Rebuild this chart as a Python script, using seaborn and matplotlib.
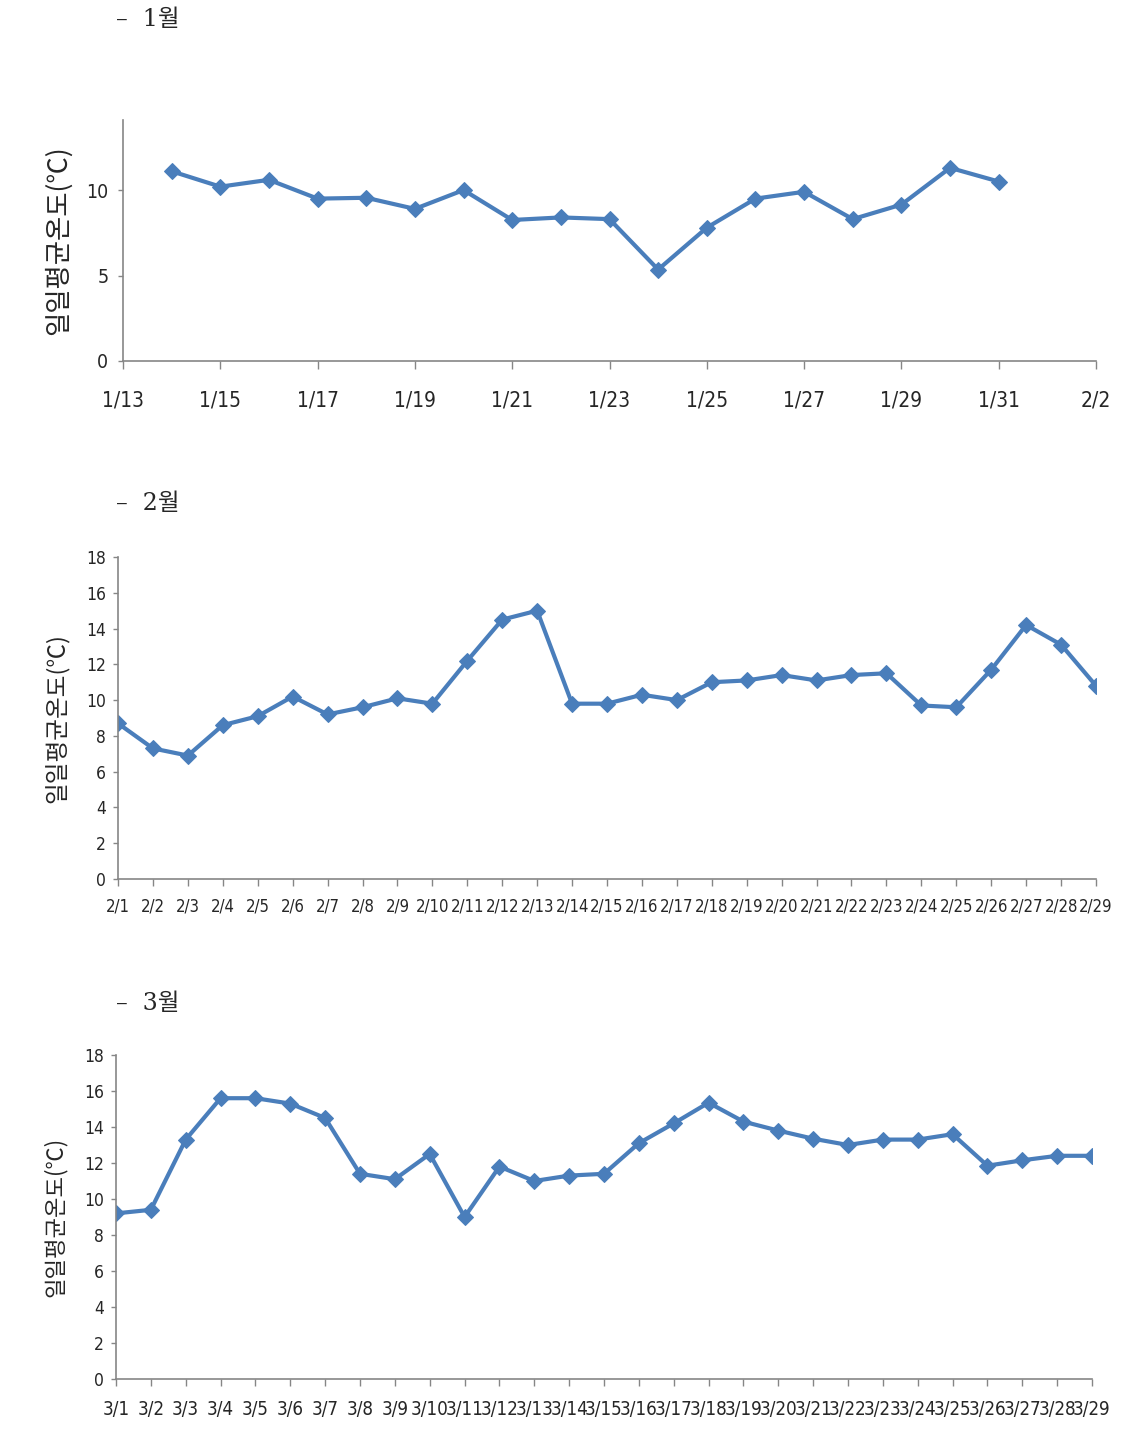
import matplotlib
matplotlib.use("Agg")
import matplotlib.pyplot as plt
import seaborn as sns
import pandas as pd

# January (1/14 - 1/31), axis runs 1/13 .. 2/2
jan_days = [14, 15, 16, 17, 18, 19, 20, 21, 22, 23, 24, 25, 26, 27, 28, 29, 30, 31]
jan_temp = [11.1, 10.2, 10.6, 9.5, 9.55, 8.9, 10.0, 8.25, 8.4, 8.3, 5.35, 7.8, 9.5, 9.9, 8.3, 9.15, 11.3, 10.5]
jan_tick_pos = [13, 15, 17, 19, 21, 23, 25, 27, 29, 31, 33]
jan_tick_labels = ["1/13", "1/15", "1/17", "1/19", "1/21", "1/23", "1/25", "1/27", "1/29", "1/31", "2/2"]

# February
feb_days = list(range(1, 30))
feb_temp = [8.7, 7.3, 6.9, 8.6, 9.1, 10.2, 9.2, 9.6, 10.1, 9.8, 12.2, 14.5, 15.0, 9.8, 9.8,
            10.3, 10.0, 11.0, 11.1, 11.4, 11.1, 11.4, 11.5, 9.7, 9.6, 11.7, 14.2, 13.1, 10.8]

# March
mar_days = list(range(1, 30))
mar_temp = [9.2, 9.4, 13.3, 15.6, 15.6, 15.3, 14.5, 11.4, 11.1, 12.5, 9.0, 11.8, 11.0, 11.3, 11.4,
            13.1, 14.2, 15.35, 14.3, 13.8, 13.35, 13.0, 13.3, 13.3, 13.6, 11.85, 12.15, 12.4, 12.4]

ylabel = "일일평균온도(℃)"
headers = ["–  1월", "–  2월", "–  3월"]

sns.set_style("white")
plt.rcParams["font.family"] = ["DejaVu Sans"]
plt.rcParams["font.stretch"] = "condensed"

line_color = "#4A7EBB"
spine_color = "#868686"
kr_font = ["Noto Sans CJK KR", "DejaVu Sans"]
head_font = ["DejaVu Serif", "Noto Sans CJK KR"]

fig = plt.figure(figsize=(11.36, 14.43), dpi=100)
W, H = 1136, 1443


def make_axes(left, right, top, bottom):
    return fig.add_axes([left / W, 1 - bottom / H, (right - left) / W, (bottom - top) / H])


def style_axes(ax, xsize, ysize, xpad, ypad, xtick_len, lab_size, lab_x):
    for s in ["top", "right"]:
        ax.spines[s].set_visible(False)
    for s in ["left", "bottom"]:
        ax.spines[s].set_color(spine_color)
        ax.spines[s].set_linewidth(1.2)
    ax.tick_params(axis="x", direction="out", length=xtick_len, width=1, color=spine_color,
                   labelsize=xsize, pad=xpad, bottom=True)
    ax.tick_params(axis="y", direction="out", length=3.5, width=1, color=spine_color,
                   labelsize=ysize, pad=ypad, left=True)
    ax.set_xlabel("")
    ax.set_ylabel(ylabel, family=kr_font, fontsize=lab_size)
    ax.yaxis.set_label_coords(lab_x, 0.5)
    ax.grid(False)


def draw(ax, days, temps):
    df = pd.DataFrame({"day": days, "temp": temps})
    sns.lineplot(data=df, x="day", y="temp", ax=ax, color=line_color, linewidth=3,
                 marker="D", markersize=8, markeredgecolor=line_color, markerfacecolor=line_color)


# Chart 1
ax1 = make_axes(123, 1096, 120, 361)
draw(ax1, jan_days, jan_temp)
ax1.set_xlim(13, 33)
ax1.set_ylim(0, 14.1)
ax1.set_yticks([0, 5, 10])
ax1.set_xticks(jan_tick_pos)
ax1.set_xticklabels(jan_tick_labels)
style_axes(ax1, 15, 14, 15, 7, 6, 19, -0.053)

# Chart 2
ax2 = make_axes(118, 1096, 557, 879)
draw(ax2, feb_days, feb_temp)
ax2.set_xlim(1, 29)
ax2.set_ylim(0, 18)
ax2.set_yticks(range(0, 19, 2))
ax2.set_xticks(feb_days)
ax2.set_xticklabels([f"2/{d}" for d in feb_days])
style_axes(ax2, 12, 12.5, 8, 5, 5, 17, -0.049)

# Chart 3
ax3 = make_axes(116, 1092, 1055, 1379)
draw(ax3, mar_days, mar_temp)
ax3.set_xlim(1, 29)
ax3.set_ylim(0, 18)
ax3.set_yticks(range(0, 19, 2))
ax3.set_xticks(mar_days)
ax3.set_xticklabels([f"3/{d}" for d in mar_days])
style_axes(ax3, 13.5, 12.5, 10, 5, 5, 16, -0.050)

# Section headers
for text, y in zip(headers, [20, 503, 1003]):
    fig.text(116 / W, 1 - y / H, text, family=head_font, fontsize=17, fontstretch="normal",
             va="center", ha="left")

fig.savefig("out.png", dpi=100, facecolor="white")
